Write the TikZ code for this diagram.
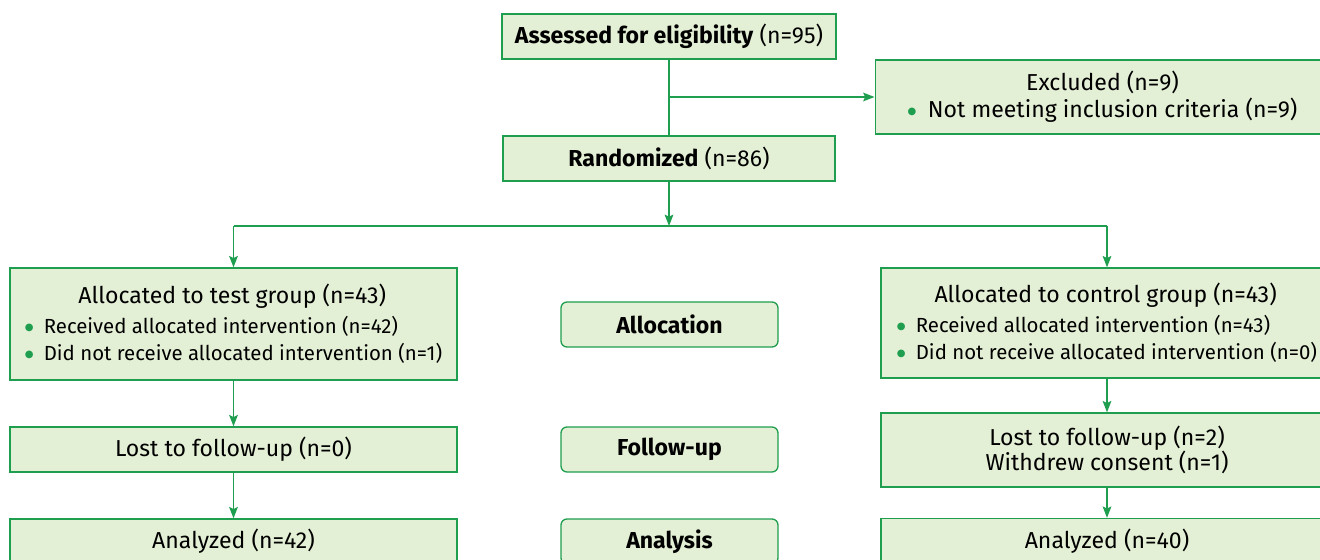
\documentclass[tikz,border=0pt]{standalone}
\usepackage{fontspec}
\setmainfont{Fira Sans}
\newfontfamily\symfont{DejaVu Sans}
\usetikzlibrary{arrows.meta}
\definecolor{boxfill}{HTML}{E4F0D5}
\definecolor{boxline}{HTML}{1E9E4E}
\newcommand\mainfs{\fontsize{17.3}{20}\selectfont}
\newcommand\subfs{\fontsize{15.3}{20.25}\selectfont}
\newcommand\gbullet{\textcolor{boxline}{\raisebox{2.6pt}{\symfont\fontsize{7.5}{8}\selectfont ●}}}
\tikzset{
  box/.style={draw=boxline, fill=boxfill, line width=1pt, inner sep=0pt, align=center, font=\mainfs},
  stage/.style={box, rounded corners=4.5pt, minimum width=162.75pt, minimum height=33.75pt},
  group/.style={box, align=left, font=\subfs},
  link/.style={draw=boxline, line width=1.1pt},
  flow/.style={link, -{Stealth[length=8.5pt,width=6.5pt,inset=1.5pt]}},
}
\begin{document}
\begin{tikzpicture}[x=0.75pt, y=-0.75pt]
\useasboundingbox (0,0) rectangle (1320,560);
% Enrollment
\node[box, minimum width=250.5pt, minimum height=33.75pt] (assess) at (669,36.5)
    {\textbf{Assessed for eligibility} (n=95)};
\node[box, minimum width=341pt, minimum height=55.5pt] (excl) at (1102.5,97)
    {Excluded (n=9)\\\gbullet\enspace Not meeting inclusion criteria (n=9)};
\node[box, minimum width=249pt, minimum height=33.75pt] (rand) at (669,158.5)
    {\textbf{Randomized} (n=86)};
\coordinate (split) at (669,226);
% Allocation
\node[group, minimum width=335.25pt, minimum height=84pt] (test) at (233.5,324)
    {\makebox[311pt]{\mainfs Allocated to test group (n=43)}\\[2pt]
     \gbullet\enspace Received allocated intervention (n=42)\\
     \gbullet\enspace Did not receive allocated intervention (n=1)};
\node[group, minimum width=339pt, minimum height=82.5pt] (ctrl) at (1107,323)
    {\makebox[313pt]{\mainfs Allocated to control group (n=43)}\\[2pt]
     \gbullet\enspace Received allocated intervention (n=43)\\
     \gbullet\enspace Did not receive allocated intervention (n=0)};
\node[stage] (alloc) at (669.5,324.5) {\textbf{Allocation}};
% Follow-up
\node[box, minimum width=335.25pt, minimum height=33.75pt] (lostA) at (233.5,449.5)
    {Lost to follow-up (n=0)};
\node[box, minimum width=339pt, minimum height=55.5pt, font=\fontsize{17.3}{19}\selectfont] (lostB) at (1107,450)
    {Lost to follow-up (n=2)\\Withdrew consent (n=1)};
\node[stage] (fup) at (669.5,449.5) {\textbf{Follow-up}};
% Analysis
\node[box, minimum width=335.25pt, minimum height=33.75pt] (anaA) at (233.5,541.5)
    {Analyzed (n=42)};
\node[box, minimum width=339pt, minimum height=33.75pt] (anaB) at (1107,541)
    {Analyzed (n=40)};
\node[stage] (analysis) at (669.5,541.5) {\textbf{Analysis}};
% Connectors
\draw[link] (assess) -- (rand);
\draw[flow] (assess.south |- excl.west) -- (excl.west);
\draw[flow] (rand) -- (split);
\draw[link] (test.north |- split) -- (ctrl.north |- split);
\draw[flow] (test.north |- split) -- (test);
\draw[flow] (ctrl.north |- split) -- (ctrl);
\draw[flow] (test) -- (lostA);
\draw[flow] (lostA) -- (anaA);
\draw[flow] (ctrl) -- (lostB);
\draw[flow] (lostB) -- (anaB);
\end{tikzpicture}
\end{document}
